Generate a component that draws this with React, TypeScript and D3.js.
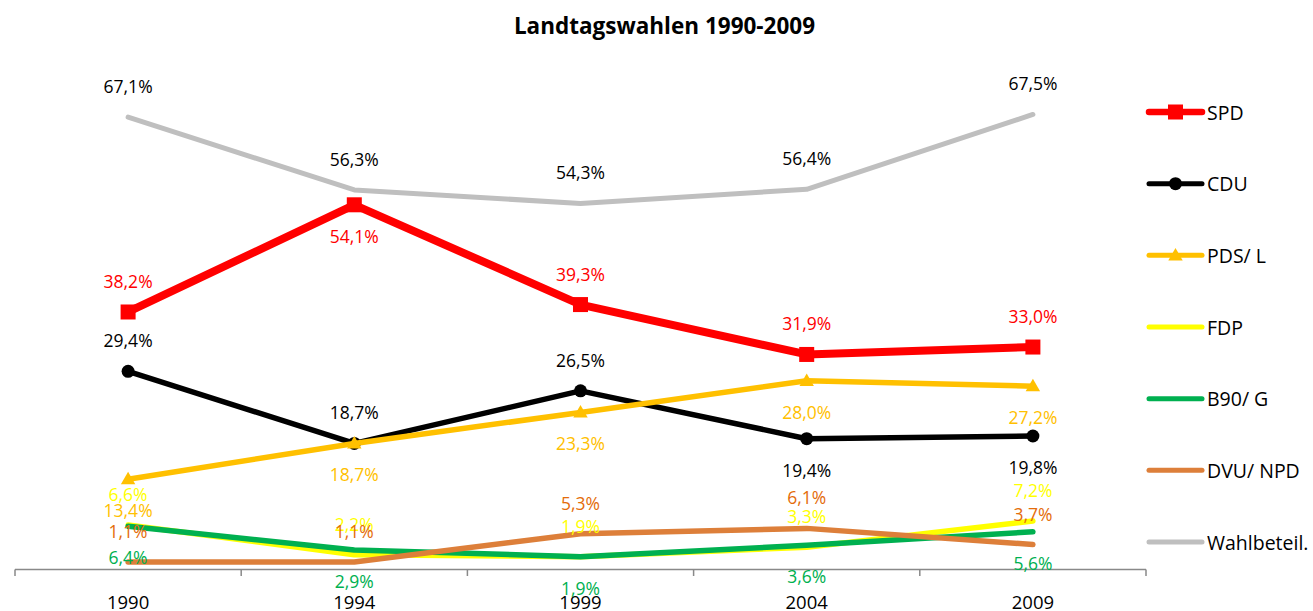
import React from "react";
import * as d3 from "d3";

const years = ["1990", "1994", "1999", "2004", "2009"];
const spd = [38.2, 54.1, 39.3, 31.9, 33.0];
const cdu = [29.4, 18.7, 26.5, 19.4, 19.8];
const pds = [13.4, 18.7, 23.3, 28.0, 27.2];
const fdp = [6.6, 2.2, 1.9, 3.3, 7.2];
const b90 = [6.4, 2.9, 1.9, 3.6, 5.6];
const dvu = [1.1, 1.1, 5.3, 6.1, 3.7];
const wahl = [67.1, 56.3, 54.3, 56.4, 67.5];
const seriesNames = ["SPD", "CDU", "PDS/ L", "FDP", "B90/ G", "DVU/ NPD", "Wahlbeteil."];

type Pos = "a" | "b";
const labelPos: Pos[][] = [
  ["a", "b", "a", "a", "a"],
  ["a", "a", "a", "b", "b"],
  ["b", "b", "b", "b", "b"],
  ["a", "a", "a", "a", "a"],
  ["b", "b", "b", "b", "b"],
  ["a", "a", "a", "a", "a"],
  ["a", "a", "a", "a", "a"],
];

const styles = [
  { color: "#FF0000", label: "#FF0000", width: 8, marker: "square" },
  { color: "#000000", label: "#000000", width: 5.5, marker: "circle" },
  { color: "#FFC000", label: "#FFC000", width: 5.5, marker: "triangle" },
  { color: "#FFFF00", label: "#FFFF00", width: 5.5, marker: "none" },
  { color: "#00B050", label: "#00B050", width: 5.5, marker: "none" },
  { color: "#DD7F3A", label: "#E46C0A", width: 5.5, marker: "none" },
  { color: "#BFBFBF", label: "#000000", width: 5, marker: "none" },
];

const allValues = [spd, cdu, pds, fdp, b90, dvu, wahl];
const FONT = "'Open Sans', 'Noto Sans', sans-serif";

function Marker({ type, x, y, color }: { type: string; x: number; y: number; color: string }) {
  if (type === "square") return <rect x={x - 7.5} y={y - 7.5} width={15} height={15} fill={color} />;
  if (type === "circle") return <circle cx={x} cy={y} r={6.5} fill={color} />;
  if (type === "triangle") {
    const p = d3.symbol().type(d3.symbolTriangle).size(90)();
    return <path d={p || ""} transform={`translate(${x},${y + 1})`} fill={color} />;
  }
  return null;
}

export default function App() {
  const x = d3.scaleBand<string>().domain(years).range([15, 1146]).padding(0);
  const y = d3.scaleLinear().domain([0, 80]).range([569.5, 30.2]);
  const cx = (yr: string) => (x(yr) as number) + x.bandwidth() / 2;
  const line = d3
    .line<number>()
    .x((_, i) => cx(years[i]))
    .y((v) => y(v));
  const fmt = (v: number) => v.toFixed(1).replace(".", ",") + "%";
  const bounds = [...years.map((yr) => x(yr) as number), 1146];
  const legendY = d3.scaleLinear().domain([0, 6]).range([112, 542]);

  return (
    <svg
      width={1313}
      height={611}
      style={{ position: "absolute", left: 0, top: 0, background: "#fff" }}
      fontFamily={FONT}
    >
      <text x={664.5} y={25} textAnchor="middle" dominantBaseline="central" fontSize={22.5} fontWeight="bold">
        Landtagswahlen 1990-2009
      </text>
      {/* axis */}
      <line x1={15} x2={1146} y1={569.5} y2={569.5} stroke="#898989" strokeWidth={1.5} />
      {bounds.map((b, i) => (
        <line key={i} x1={b} x2={b} y1={569.5} y2={576} stroke="#898989" strokeWidth={1.5} />
      ))}
      {years.map((yr) => (
        <text key={yr} x={cx(yr)} y={608.5} textAnchor="middle" fontSize={18.5}>
          {yr}
        </text>
      ))}
      {/* lines */}
      {allValues.map((vals, si) => (
        <g key={si}>
          <path d={line(vals) || ""} fill="none" stroke={styles[si].color} strokeWidth={styles[si].width} strokeLinejoin="round" strokeLinecap="round" />
          {vals.map((v, i) => (
            <Marker key={i} type={styles[si].marker} x={cx(years[i])} y={y(v)} color={styles[si].color} />
          ))}
        </g>
      ))}
      {/* labels */}
      {allValues.map((vals, si) => (
        <g key={si}>
          {vals.map((v, i) => (
            <text
              key={i}
              x={cx(years[i])}
              y={y(v) + (labelPos[si][i] === "a" ? -31 : 31)}
              textAnchor="middle"
              dominantBaseline="central"
              fontSize={17.5}
              fill={styles[si].label}
            >
              {fmt(v)}
            </text>
          ))}
        </g>
      ))}
      {/* legend */}
      {seriesNames.map((name, si) => {
        const ly = legendY(si);
        return (
          <g key={name}>
            <line x1={1149} x2={1202} y1={ly} y2={ly} stroke={styles[si].color} strokeWidth={si === 0 ? 6.5 : 5} strokeLinecap="round" />
            <Marker type={styles[si].marker} x={1175.5} y={ly} color={styles[si].color} />
            <text x={1207} y={ly} dominantBaseline="central" fontSize={19.5}>
              {name}
            </text>
          </g>
        );
      })}
    </svg>
  );
}
